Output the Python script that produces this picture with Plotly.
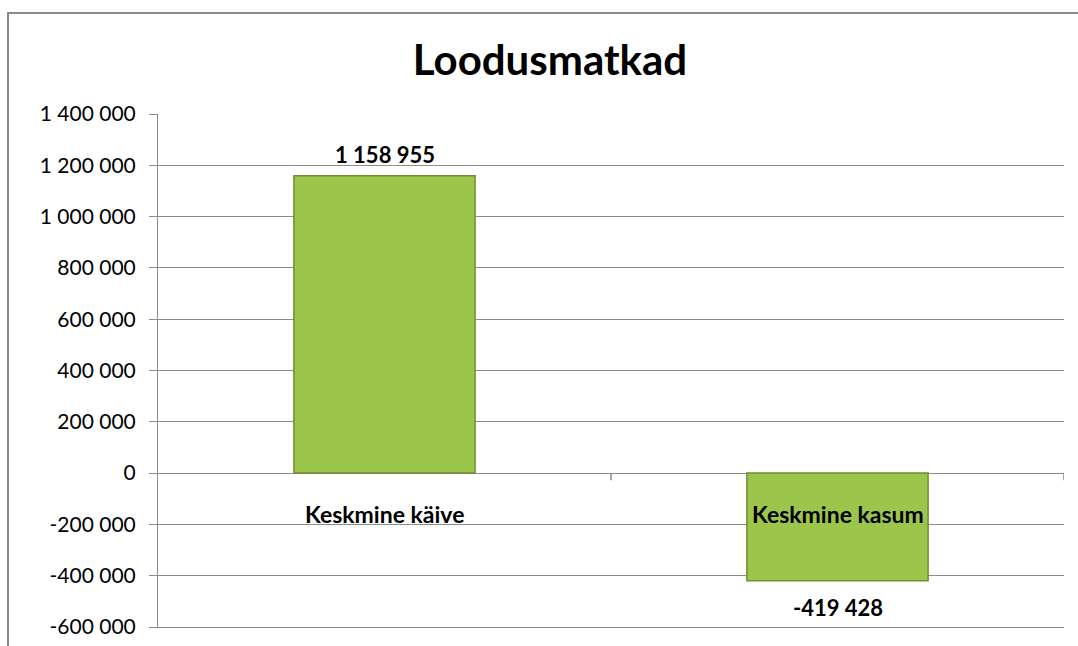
import plotly.graph_objects as go

categories = ["Keskmine käive", "Keskmine kasum"]
values = [1158955, -419428]
tick_vals = [-600000, -400000, -200000, 0, 200000, 400000, 600000, 800000, 1000000, 1200000, 1400000]
tick_text = ["-600 000", "-400 000", "-200 000", "0", "200 000", "400 000", "600 000",
             "800 000", "1 000 000", "1 200 000", "1 400 000"]
title_text = "Loodusmatkad"

FONT = "Lato"
W, H = 1078, 646
ml, mr, mt = 158, 14, 114
ph = 513
mb = H - mt - ph
pw = W - ml - mr

def fmt(v):
    s = f"{abs(v):,}".replace(",", " ")
    return ("-" if v < 0 else "") + s

fig = go.Figure()
fig.add_trace(go.Bar(
    x=categories, y=values,
    marker=dict(color="#9cc54c", line=dict(color="#6f8f32", width=1.5)),
    width=0.4,
))

# value labels
for c, v in zip(categories, values):
    fig.add_annotation(x=c, y=v, xref="x", yref="y", text="<b>" + fmt(v) + "</b>",
                       showarrow=False, yanchor="middle",
                       yshift=21 if v >= 0 else -27,
                       font=dict(family=FONT, size=22, color="#000000"))

# category labels next to the zero line
for c in categories:
    fig.add_annotation(x=c, y=0, xref="x", yref="y", text="<b>" + c + "</b>", showarrow=False,
                       yanchor="middle", yshift=-41,
                       font=dict(family=FONT, size=23, color="#000000"))

# small tick marks on the zero line at category boundaries
for b in [0.5, 1.5]:
    fig.add_shape(type="line", xref="x", yref="y", x0=b, x1=b, y0=0, y1=-28000,
                  line=dict(color="#8c8c8c", width=1.5))

# outer chart border (left and top edges visible; right/bottom run past the frame)
fig.add_shape(type="rect", xref="paper", yref="paper",
              x0=(8 - ml) / pw, x1=1.05, y0=-0.05, y1=1 + (mt - 13) / ph,
              line=dict(color="#8a8a8a", width=2), fillcolor="rgba(0,0,0,0)", layer="below")

fig.update_layout(
    width=W, height=H,
    margin=dict(l=ml, r=mr, t=mt, b=mb, autoexpand=False),
    paper_bgcolor="white", plot_bgcolor="white",
    showlegend=False,
    title=dict(text=title_text, x=550 / W, xanchor="center", xref="container",
               y=1 - 60 / H, yanchor="middle", yref="container",
               font=dict(family=FONT, size=42, color="#000000", weight="bold")),
    xaxis=dict(showticklabels=False, showgrid=False, zeroline=False, automargin=False,
               showline=True, linecolor="#8c8c8c", linewidth=1,
               ticks="", range=[-0.5, 1.5]),
    yaxis=dict(range=[-600000, 1400000], tickvals=tick_vals, ticktext=tick_text,
               automargin=False,
               showgrid=True, gridcolor="#8c8c8c", gridwidth=1,
               zeroline=True, zerolinecolor="#8c8c8c", zerolinewidth=1,
               showline=True, linecolor="#8c8c8c", linewidth=1,
               ticks="outside", ticklen=8, tickcolor="#8c8c8c",
               ticklabelstandoff=9,
               tickfont=dict(family=FONT, size=21, color="#000000")),
)

fig.write_html("out.html", config={"displayModeBar": False},
               post_script="document.body.style.margin='0';document.body.style.overflow='hidden';")
